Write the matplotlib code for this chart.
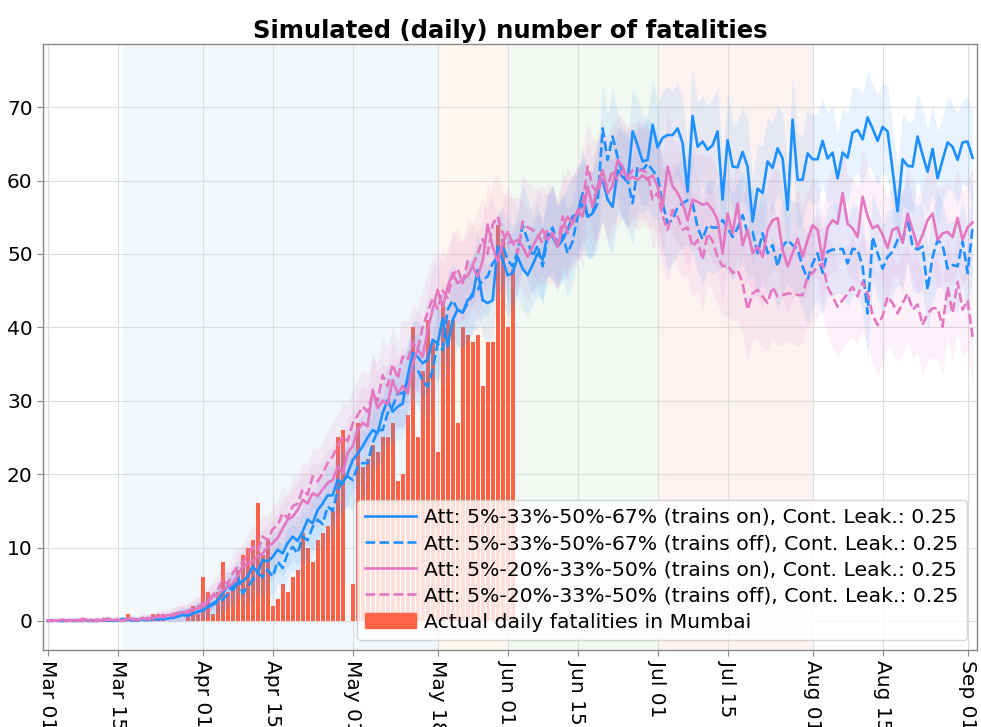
import datetime as dt
import matplotlib
matplotlib.use("Agg")
import matplotlib.pyplot as plt
import matplotlib.dates as mdates
from matplotlib.patches import Patch

# ---------------- data ----------------
start_date = dt.date(2020, 3, 1)

actual_deaths = [
    0, 0, 0, 0, 0, 0, 0, 0, 0, 0,
    0, 0, 0, 0, 0, 0, 1, 0, 0, 0,
    0, 1, 1, 1, 0, 0, 0, 0, 1, 2,
    1, 6, 4, 1, 4, 8, 4, 5, 7, 9,
    10, 11, 16, 9, 11, 2, 3, 5, 4, 6,
    7, 12, 10, 8, 11, 12, 13, 15, 25, 26,
    0, 5, 27, 21, 22, 24, 23, 25, 25, 27,
    19, 20, 28, 40, 25, 34, 41, 38, 23, 43,
    41, 41, 27, 40, 39, 38, 39, 32, 38, 38,
    54, 52, 40, 48,
]

trains_on_67 = [
    0.0, 0.1, 0.0, 0.0, 0.1, 0.0, 0.0, 0.2, 0.0, 0.0,
    0.1, 0.0, 0.3, 0.0, 0.1, 0.0, 0.2, 0.1, 0.0, 0.3,
    0.1, 0.3, 0.2, 0.4, 0.3, 0.5, 0.6, 0.8, 0.7, 1.0,
    1.2, 1.5, 1.9, 2.4, 2.8, 3.8, 4.7, 4.2, 5.1, 5.4,
    6.0, 7.4, 6.6, 8.3, 8.1, 8.7, 9.7, 9.2, 10.6, 11.5,
    10.9, 12.2, 13.8, 13.3, 15.1, 16.0, 17.1, 17.1, 19.2, 18.7,
    20.1, 21.9, 22.8, 23.8, 25.0, 26.0, 25.6, 28.3, 30.1, 28.5,
    29.2, 29.6, 33.3, 36.5, 36.0, 35.1, 35.6, 38.3, 37.8, 41.2,
    37.4, 41.0, 42.4, 42.0, 43.7, 44.2, 47.8, 43.7, 43.3, 43.7,
    51.0, 49.2, 47.1, 47.4, 49.6, 48.0, 47.1, 48.5, 50.1, 49.2,
    52.8, 52.3, 51.0, 51.9, 53.3, 55.1, 55.5, 58.3, 55.1, 55.5,
    59.2, 60.1, 57.4, 56.4, 61.4, 60.5, 59.8, 66.7, 64.8, 62.6,
    62.8, 67.6, 64.5, 65.8, 66.2, 66.2, 67.1, 65.1, 58.5, 68.8,
    64.6, 65.3, 64.2, 64.8, 66.7, 57.4, 65.5, 61.9, 61.8, 63.9,
    61.9, 54.4, 58.9, 58.3, 62.6, 61.7, 64.4, 63.0, 56.0, 68.3,
    60.1, 60.1, 63.7, 62.9, 62.9, 65.4, 63.0, 63.8, 60.3, 63.8,
    63.1, 66.5, 66.9, 65.6, 68.6, 67.1, 65.4, 67.3, 66.7, 61.4,
    55.8, 62.9, 62.0, 61.9, 66.0, 63.5, 61.2, 64.3, 60.3, 62.8,
    65.2, 64.6, 62.8, 65.2, 65.3, 63.1,
]

trains_off_67 = [
    0.0, 0.0, 0.1, 0.0, 0.0, 0.2, 0.0, 0.0, 0.1, 0.0,
    0.0, 0.2, 0.0, 0.1, 0.0, 0.3, 0.0, 0.1, 0.2, 0.0,
    0.3, 0.1, 0.4, 0.2, 0.5, 0.4, 0.6, 0.9, 0.8, 1.1,
    1.3, 1.4, 1.8, 2.2, 2.5, 2.9, 3.6, 4.7, 6.0, 3.8,
    4.6, 5.6, 6.5, 6.0, 7.0, 6.0, 8.1, 7.2, 9.2, 10.1,
    9.2, 11.5, 11.0, 12.8, 13.8, 13.2, 15.6, 15.0, 17.8, 19.2,
    19.7, 19.2, 21.0, 21.5, 21.5, 24.2, 26.0, 26.0, 28.3, 29.2,
    31.0, 31.0, 32.8, 34.6, 34.2, 32.8, 31.9, 34.2, 37.8, 36.9,
    42.4, 43.7, 42.4, 42.0, 43.3, 44.7, 45.1, 46.5, 46.9, 48.7,
    49.6, 51.2, 49.2, 48.3, 50.3, 53.9, 51.9, 49.6, 51.2, 48.3,
    52.3, 53.6, 51.2, 52.6, 50.1, 51.7, 55.1, 56.9, 55.1, 55.5,
    56.9, 67.1, 62.8, 66.0, 63.2, 61.0, 60.1, 56.9, 61.9, 61.4,
    62.3, 61.4, 60.5, 56.9, 54.2, 54.6, 56.4, 56.9, 57.3, 56.9,
    53.6, 52.0, 53.9, 53.6, 53.6, 54.6, 53.6, 52.3, 53.5, 55.3,
    52.8, 53.0, 50.1, 52.8, 50.1, 51.2, 48.3, 51.0, 51.9, 51.2,
    50.6, 48.3, 46.5, 48.7, 50.1, 47.4, 50.3, 50.6, 50.6, 50.7,
    48.7, 50.7, 50.6, 48.3, 41.9, 52.3, 50.1, 48.0, 49.6, 50.3,
    51.9, 51.7, 54.9, 51.0, 50.6, 51.0, 45.1, 49.6, 51.9, 51.2,
    48.0, 48.5, 48.3, 51.7, 47.4, 53.6,
]

trains_on_50 = [
    0.0, 0.1, 0.0, 0.2, 0.0, 0.1, 0.0, 0.3, 0.1, 0.0,
    0.2, 0.0, 0.3, 0.1, 0.2, 0.0, 0.3, 0.2, 0.1, 0.4,
    0.2, 0.4, 0.6, 0.5, 0.8, 0.7, 1.0, 1.2, 1.1, 1.5,
    1.7, 1.9, 2.6, 3.3, 3.6, 4.2, 4.6, 5.1, 6.2, 7.4,
    7.8, 8.1, 8.8, 9.2, 10.1, 10.6, 11.3, 12.6, 13.8, 14.2,
    15.1, 16.5, 16.0, 17.4, 17.0, 17.9, 18.8, 19.2, 21.0, 20.1,
    22.9, 23.8, 26.0, 27.0, 26.5, 31.5, 29.0, 30.0, 29.5, 32.8,
    31.0, 32.0, 31.0, 35.0, 37.0, 36.0, 39.6, 42.4, 45.1, 42.8,
    45.5, 47.4, 46.0, 46.5, 47.0, 48.3, 46.9, 49.0, 54.0, 51.0,
    49.0, 51.5, 53.0, 51.5, 51.9, 51.0, 49.6, 51.0, 52.3, 53.3,
    51.9, 52.8, 51.0, 53.6, 55.1, 54.1, 56.0, 55.1, 59.2, 56.4,
    59.2, 61.4, 58.3, 59.2, 62.8, 61.9, 60.1, 60.5, 60.1, 60.7,
    60.1, 60.7, 59.2, 56.4, 61.9, 59.2, 58.3, 56.9, 54.6, 57.4,
    57.1, 56.7, 56.9, 56.0, 54.6, 50.1, 55.5, 52.8, 56.9, 51.2,
    53.3, 50.1, 51.0, 49.6, 53.3, 54.6, 54.9, 50.6, 48.3, 50.1,
    52.1, 49.6, 51.9, 53.9, 53.3, 49.2, 53.6, 54.6, 54.1, 58.3,
    54.1, 53.5, 52.3, 57.8, 55.1, 53.5, 53.9, 52.6, 50.8, 53.3,
    53.6, 51.5, 55.5, 53.3, 51.0, 52.6, 54.6, 55.5, 51.9, 52.8,
    53.0, 52.3, 54.9, 51.9, 53.6, 54.3,
]

trains_off_50 = [
    0.0, 0.0, 0.1, 0.1, 0.0, 0.2, 0.1, 0.0, 0.2, 0.1,
    0.0, 0.3, 0.1, 0.2, 0.1, 0.0, 0.2, 0.3, 0.1, 0.2,
    0.4, 0.3, 0.5, 0.7, 0.6, 0.9, 1.1, 1.0, 1.4, 1.6,
    1.9, 2.3, 2.8, 3.5, 4.2, 5.6, 5.0, 6.5, 7.4, 8.0,
    9.0, 10.1, 9.5, 11.5, 11.0, 12.5, 13.0, 14.7, 14.0, 15.6,
    16.0, 17.9, 17.2, 19.7, 19.0, 20.1, 21.5, 22.4, 23.8, 25.1,
    24.5, 26.9, 28.0, 29.2, 28.5, 31.0, 30.0, 33.5, 32.0, 35.0,
    33.0, 36.0, 35.5, 38.0, 37.0, 40.0, 42.0, 44.0, 42.5, 45.0,
    44.0, 47.0, 48.0, 46.0, 49.0, 48.5, 50.0, 52.0, 50.0, 54.0,
    55.1, 52.8, 51.5, 51.7, 50.1, 54.4, 53.6, 53.3, 52.6, 51.5,
    53.3, 52.8, 51.0, 55.1, 52.8, 54.4, 55.5, 56.9, 61.9, 59.2,
    58.3, 60.5, 59.2, 61.4, 60.1, 61.4, 60.5, 61.4, 61.4, 61.4,
    61.0, 57.4, 58.3, 55.1, 53.3, 56.0, 55.1, 53.3, 53.6, 51.0,
    51.9, 49.2, 52.8, 51.7, 49.6, 48.3, 48.5, 47.4, 47.8, 46.0,
    42.4, 44.6, 45.1, 44.2, 43.3, 45.5, 44.2, 44.4, 44.6, 44.6,
    44.4, 44.4, 46.9, 47.4, 48.3, 48.7, 45.5, 44.2, 42.8, 43.7,
    44.6, 45.5, 44.2, 46.2, 44.6, 41.7, 40.3, 41.5, 44.2, 43.3,
    41.9, 43.3, 44.6, 42.4, 43.1, 40.3, 41.9, 42.6, 42.6, 40.1,
    45.5, 41.9, 46.2, 42.4, 43.7, 38.7,
]

spread_blue = [
    0.3, 0.3, 0.3, 0.4, 0.3, 0.3, 0.4, 0.3, 0.3, 0.4,
    0.3, 0.4, 0.4, 0.3, 0.4, 0.4, 0.5, 0.4, 0.4, 0.5,
    0.5, 0.6, 0.6, 0.7, 0.7, 0.8, 0.9, 0.9, 1.0, 1.1,
    1.2, 1.3, 1.4, 1.6, 1.7, 1.9, 2.0, 2.1, 2.3, 2.2,
    2.5, 2.6, 2.8, 2.7, 3.0, 3.1, 2.9, 3.2, 3.3, 3.1,
    3.4, 3.5, 3.3, 3.6, 3.8, 3.6, 3.9, 4.0, 3.8, 4.1,
    4.2, 4.0, 4.3, 4.5, 4.2, 4.4, 4.6, 4.3, 4.7, 4.5,
    4.4, 4.8, 4.6, 4.5, 4.9, 4.7, 4.6, 5.0, 4.8, 5.1,
    4.9, 5.2, 5.0, 4.8, 5.3, 5.1, 5.4, 5.0, 5.2, 5.5,
    5.3, 5.1, 5.6, 5.4, 5.2, 5.7, 5.5, 5.3, 5.8, 5.4,
    5.6, 5.9, 5.5, 5.7, 6.0, 5.6, 5.8, 6.2, 5.7, 5.9,
    6.4, 5.8, 6.0, 6.5, 5.9, 6.1, 6.3, 5.8, 6.2, 6.0,
    6.1, 6.4, 5.9, 6.2, 6.6, 6.0, 6.3, 5.9, 6.1, 6.5,
    5.9, 6.2, 6.0, 6.4, 5.8, 6.1, 6.3, 5.9, 6.2, 6.0,
    6.3, 5.8, 6.1, 6.4, 5.9, 6.2, 6.0, 6.3, 5.8, 6.1,
    6.4, 5.9, 6.2, 6.0, 6.3, 5.8, 6.1, 6.5, 5.9, 6.2,
    6.0, 6.3, 5.8, 6.1, 6.4, 5.9, 6.2, 6.0, 6.3, 5.8,
    6.1, 6.4, 5.9, 6.2, 6.0, 6.3, 5.8, 6.1, 6.4, 5.9,
    6.2, 6.0, 6.3, 5.8, 6.1, 6.4,
]

spread_pink = [
    0.3, 0.4, 0.3, 0.3, 0.4, 0.3, 0.4, 0.4, 0.3, 0.4,
    0.4, 0.4, 0.5, 0.4, 0.5, 0.4, 0.5, 0.5, 0.5, 0.6,
    0.6, 0.7, 0.7, 0.8, 0.8, 0.9, 1.0, 1.1, 1.1, 1.2,
    1.4, 1.5, 1.7, 1.8, 2.0, 2.1, 2.3, 2.4, 2.6, 2.5,
    2.8, 3.0, 2.9, 3.2, 3.3, 3.1, 3.5, 3.6, 3.4, 3.8,
    3.9, 3.7, 4.1, 4.0, 4.3, 4.2, 4.4, 4.6, 4.3, 4.7,
    4.8, 4.6, 4.9, 5.1, 4.8, 5.0, 5.2, 4.9, 5.3, 5.1,
    5.0, 5.4, 5.2, 5.1, 5.5, 5.3, 5.2, 5.6, 5.4, 5.7,
    5.5, 5.8, 5.6, 5.4, 5.9, 5.7, 6.0, 5.6, 5.8, 6.1,
    5.9, 5.7, 6.2, 6.0, 5.8, 6.3, 6.1, 5.9, 6.4, 6.0,
    6.2, 6.5, 6.1, 6.3, 6.6, 6.2, 6.4, 6.8, 6.3, 6.5,
    7.0, 6.4, 6.6, 7.1, 6.5, 6.7, 6.9, 6.4, 6.8, 6.6,
    6.7, 7.0, 6.5, 6.8, 7.2, 6.6, 6.9, 6.5, 6.7, 7.1,
    6.5, 6.8, 6.6, 7.0, 6.4, 6.7, 6.9, 6.5, 6.8, 6.6,
    6.9, 6.4, 6.7, 7.0, 6.5, 6.8, 6.6, 6.9, 6.4, 6.7,
    7.0, 6.5, 6.8, 6.6, 6.9, 6.4, 6.7, 7.1, 6.5, 6.8,
    6.6, 6.9, 6.4, 6.7, 7.0, 6.5, 6.8, 6.6, 6.9, 6.4,
    6.7, 7.0, 6.5, 6.8, 6.6, 6.9, 6.4, 6.7, 7.0, 6.5,
    6.8, 6.6, 6.9, 6.4, 6.7, 7.0,
]

labels = [
    "Att: 5%-33%-50%-67% (trains on), Cont. Leak.: 0.25",
    "Att: 5%-33%-50%-67% (trains off), Cont. Leak.: 0.25",
    "Att: 5%-20%-33%-50% (trains on), Cont. Leak.: 0.25",
    "Att: 5%-20%-33%-50% (trains off), Cont. Leak.: 0.25",
]
bar_label = "Actual daily fatalities in Mumbai"
title = "Simulated (daily) number of fatalities"

tick_dates = [dt.date(2020, 3, 1), dt.date(2020, 3, 15), dt.date(2020, 4, 1),
              dt.date(2020, 4, 15), dt.date(2020, 5, 1), dt.date(2020, 5, 18),
              dt.date(2020, 6, 1), dt.date(2020, 6, 15), dt.date(2020, 7, 1),
              dt.date(2020, 7, 15), dt.date(2020, 8, 1), dt.date(2020, 8, 15),
              dt.date(2020, 9, 1)]

phase_starts = [dt.date(2020, 3, 16), dt.date(2020, 5, 18), dt.date(2020, 6, 1), dt.date(2020, 7, 1)]
phase_ends = [dt.date(2020, 5, 18), dt.date(2020, 6, 1), dt.date(2020, 7, 1), dt.date(2020, 8, 1)]
phase_colors = ["tab:blue", "tab:orange", "tab:green", "tab:red"]

# ---------------- plot ----------------
dates = [start_date + dt.timedelta(days=i) for i in range(len(trains_on_67))]
bar_dates = [start_date + dt.timedelta(days=i) for i in range(len(actual_deaths))]

fig = plt.figure(figsize=(9.81, 7.27), dpi=100)
ax = fig.add_axes([0.044, 0.106, 0.952, 0.8335])

for s, e, c in zip(phase_starts, phase_ends, phase_colors):
    ax.axvspan(s, e, color=c, alpha=0.06, lw=0, zorder=0)

ax.bar(bar_dates, actual_deaths, width=0.8, color="tomato", zorder=2, label=bar_label)

series = [trains_on_67, trains_off_67, trains_on_50, trains_off_50]
spreads = [spread_blue, spread_blue, spread_pink, spread_pink]
colors = ["dodgerblue", "dodgerblue", "tab:pink", "tab:pink"]
styles = ["-", "--", "-", "--"]
handles = []
for ys, sp, c, ls, lab in zip(series, spreads, colors, styles, labels):
    lo = [max(y - s, 0) for y, s in zip(ys, sp)]
    hi = [y + s for y, s in zip(ys, sp)]
    ax.fill_between(dates, lo, hi, color=c, alpha=0.1, lw=0, zorder=3)
    h, = ax.plot(dates, ys, color=c, ls=ls, lw=1.9, zorder=4, label=lab)
    handles.append(h)
handles.append(Patch(color="tomato", label=bar_label))

x0 = mdates.date2num(start_date)
ax.set_xlim(x0 - 0.9, x0 + 185.9)
ax.set_ylim(-3.95, 78.6)
ax.set_xticks(tick_dates)
ax.xaxis.set_major_formatter(mdates.DateFormatter("%b %d"))
ax.set_yticks([0, 10, 20, 30, 40, 50, 60, 70])
ax.tick_params(axis="x", labelrotation=-90, labelsize=14.5, length=4, color="#888888")
ax.tick_params(axis="y", labelsize=14.5, length=4, color="#888888")
ax.grid(True, color="#dddddd", lw=0.8, zorder=1)
ax.set_axisbelow(True)
for sp in ax.spines.values():
    sp.set_color("#888888")
    sp.set_linewidth(1.0)

ax.set_title(title, fontsize=17.5, fontweight="bold", pad=4)
ax.legend(handles=handles, loc="lower right", fontsize=14.7, handlelength=2.5,
          handletextpad=0.4, labelspacing=0.35, borderaxespad=0.5)

fig.savefig("out.png", dpi=100)
